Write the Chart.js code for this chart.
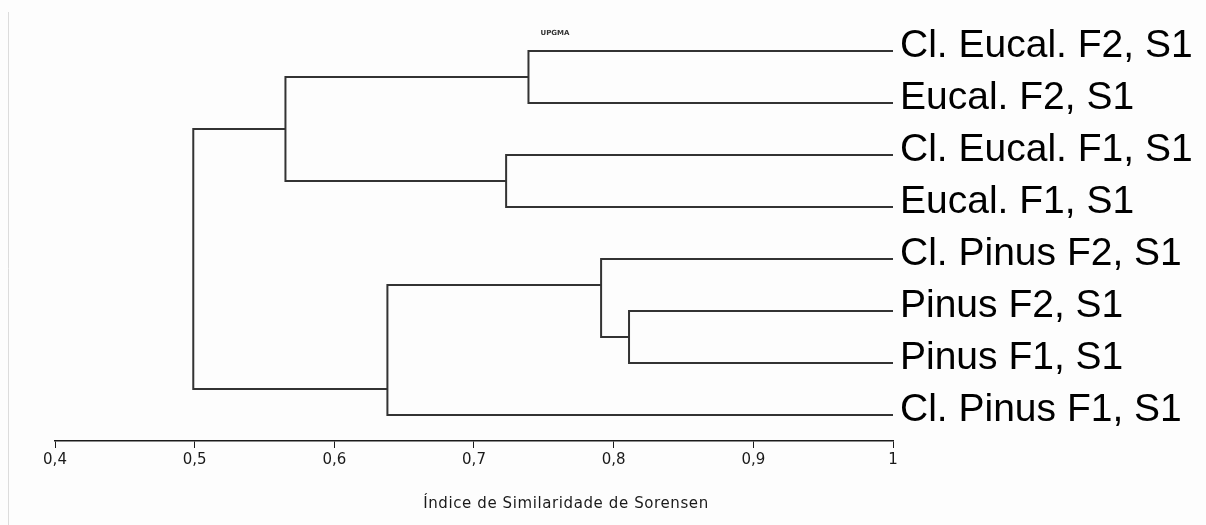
<!DOCTYPE html>
<html>
<head>
<meta charset="utf-8">
<title>Dendrograma UPGMA - Sorensen</title>
<script src="https://cdn.jsdelivr.net/npm/chart.js@4/dist/chart.umd.min.js"></script>
<style>
  html, body { margin: 0; padding: 0; background: #fdfdfd; }
  canvas { display: block; }
</style>
</head>
<body>
<canvas id="chart" width="1206" height="525"></canvas>
<script>
// Leaves, top to bottom
const leafLabels = [
  'Cl. Eucal. F2, S1',
  'Eucal. F2, S1',
  'Cl. Eucal. F1, S1',
  'Eucal. F1, S1',
  'Cl. Pinus F2, S1',
  'Pinus F2, S1',
  'Pinus F1, S1',
  'Cl. Pinus F1, S1'
];

// Cluster nodes (ids 8..14): similarity level of each fusion
const clusterSimilarity = [0.739, 0.723, 0.565, 0.811, 0.791, 0.638, 0.499];
// Children joined at each fusion (ids 0..7 are leaves, 8.. are clusters)
const clusterChildren = [[0, 1], [2, 3], [8, 9], [5, 6], [4, 11], [12, 7], [10, 13]];
// Row where each cluster's branch leaves the fusion (in leaf-row units)
const clusterRow = [0.5, 2.5, 1.5, 5.5, 4.5, 6.5, 4.0];

const tickLabels = ['0,4', '0,5', '0,6', '0,7', '0,8', '0,9', '1'];
const axisTitle = 'Índice de Similaridade de Sorensen';
const methodLabel = 'UPGMA';

const nLeaves = leafLabels.length;
const simOf = id => id < nLeaves ? 1 : clusterSimilarity[id - nLeaves];
const rowOf = id => id < nLeaves ? id : clusterRow[id - nLeaves];

// One bracket-shaped path per fusion
const datasets = clusterChildren.map(([a, b], k) => {
  const s = clusterSimilarity[k];
  return {
    data: [
      { x: simOf(a), y: rowOf(a) },
      { x: s, y: rowOf(a) },
      { x: s, y: rowOf(b) },
      { x: simOf(b), y: rowOf(b) }
    ],
    showLine: true,
    borderColor: '#333333',
    borderWidth: 2,
    pointRadius: 0,
    pointHoverRadius: 0,
    tension: 0,
    fill: false
  };
});

const textPlugin = {
  id: 'dendroText',
  afterDraw(chart) {
    const { ctx, chartArea, scales } = chart;
    ctx.save();
    // leaf names
    ctx.fillStyle = '#000';
    ctx.font = '39px "Liberation Sans", Arial, sans-serif';
    ctx.textAlign = 'left';
    ctx.textBaseline = 'alphabetic';
    leafLabels.forEach((name, i) => {
      ctx.fillText(name, chartArea.right + 7, scales.y.getPixelForValue(i) + 6);
    });
    // axis title
    ctx.font = '15px "DejaVu Sans", sans-serif';
    ctx.letterSpacing = '0.6px';
    ctx.fillStyle = '#1a1a1a';
    ctx.textAlign = 'center';
    ctx.fillText(axisTitle, 566, 508);
    ctx.letterSpacing = '0px';
    // method tag
    ctx.font = 'bold 7px "DejaVu Sans", sans-serif';
    ctx.fillStyle = '#333';
    ctx.fillText(methodLabel, 555, 35);
    ctx.restore();
  }
};

const framePlugin = {
  id: 'frame',
  beforeDraw(chart) {
    const { ctx } = chart;
    ctx.save();
    ctx.fillStyle = '#fdfdfd';
    ctx.fillRect(0, 0, chart.width, chart.height);
    ctx.strokeStyle = '#dcdcdc';
    ctx.lineWidth = 1;
    ctx.beginPath();
    ctx.moveTo(8.5, 12);
    ctx.lineTo(8.5, 525);
    ctx.stroke();
    ctx.restore();
  }
};

new Chart(document.getElementById('chart'), {
  type: 'scatter',
  data: { datasets },
  options: {
    responsive: false,
    animation: false,
    events: [],
    layout: { padding: { left: 55, right: 313, top: 25, bottom: 0 } },
    plugins: {
      legend: { display: false },
      tooltip: { enabled: false },
      title: { display: false }
    },
    scales: {
      x: {
        type: 'linear',
        position: 'bottom',
        min: 0.4,
        max: 1,
        afterFit(scale) { scale.height = 84; },
        ticks: {
          stepSize: 0.1,
          padding: 3,
          color: '#1a1a1a',
          font: { family: '"DejaVu Sans", sans-serif', size: 15 },
          maxRotation: 0,
          autoSkip: false,
          callback: (v, i) => tickLabels[i]
        },
        grid: {
          display: true,
          drawOnChartArea: false,
          drawTicks: true,
          tickLength: 7,
          color: '#1a1a1a',
          lineWidth: 1
        },
        border: { display: true, color: '#1a1a1a', width: 1.5 }
      },
      y: {
        type: 'linear',
        min: -0.5,
        max: 7.5,
        reverse: true,
        display: false
      }
    }
  },
  plugins: [framePlugin, textPlugin]
});
</script>
</body>
</html>
